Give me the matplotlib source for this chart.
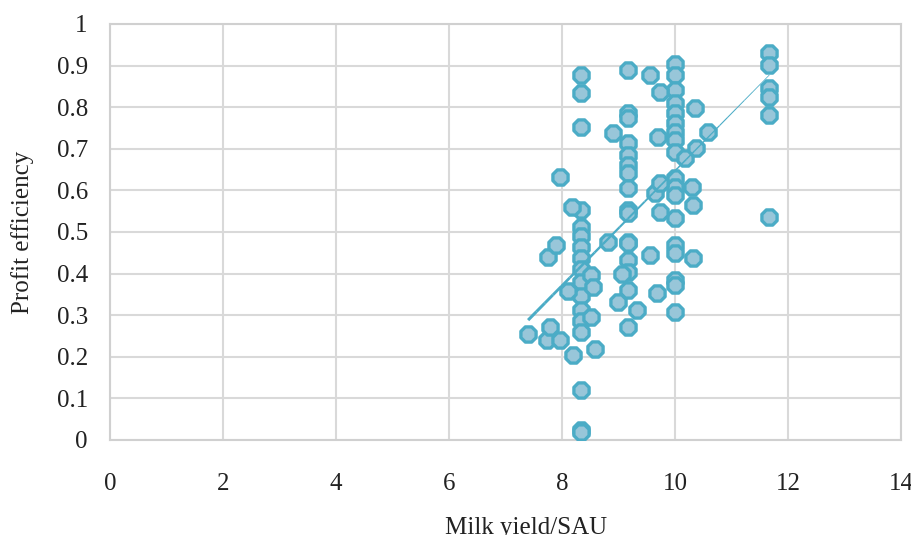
import numpy as np
import matplotlib
matplotlib.use('Agg')
import matplotlib.pyplot as plt
from matplotlib.collections import LineCollection

# milk yield columns (farms sharing the same yield value)
col_833 = [0.877, 0.833, 0.753, 0.553, 0.513, 0.49, 0.465, 0.437, 0.41, 0.38,
           0.345, 0.3125, 0.285, 0.26, 0.12, 0.025, 0.02]
col_917 = [0.889, 0.785, 0.775, 0.713, 0.685, 0.661, 0.641, 0.605, 0.553, 0.545,
           0.477, 0.473, 0.433, 0.405, 0.36, 0.272]
col_1000 = [0.905, 0.877, 0.841, 0.809, 0.785, 0.761, 0.741, 0.721, 0.693, 0.629,
            0.609, 0.589, 0.533, 0.469, 0.449, 0.385, 0.373, 0.308]
col_1167 = [0.93, 0.901, 0.845, 0.825, 0.781, 0.536]

# remaining farms
other_x = [7.40, 7.73, 7.76, 7.79, 7.90, 7.96, 7.97, 8.11, 8.17, 8.20, 8.52, 8.55,
           8.52, 8.58, 8.82, 8.91, 9.00, 9.06, 9.32, 9.56, 9.56, 9.65, 9.68, 9.73,
           9.70, 9.73, 9.73, 10.18, 10.30, 10.32, 10.32, 10.35, 10.38, 10.59]
other_y = [0.256, 0.24, 0.441, 0.272, 0.469, 0.24, 0.632, 0.357, 0.561, 0.204, 0.397, 0.368,
           0.296, 0.218, 0.477, 0.737, 0.332, 0.40, 0.3125, 0.445, 0.877, 0.593, 0.353, 0.837,
           0.729, 0.617, 0.549, 0.677, 0.609, 0.565, 0.437, 0.797, 0.701, 0.741]

# trend line as shown on the chart
trend_slope = 0.138
trend_intercept = -0.733

x = np.array([8.33] * len(col_833) + [9.17] * len(col_917) + [10.0] * len(col_1000)
             + [11.67] * len(col_1167) + other_x)
y = np.array(col_833 + col_917 + col_1000 + col_1167 + other_y)

plt.rcParams['font.family'] = ['Liberation Serif', 'DejaVu Serif']
txt = '#222222'
teal = '#4BACC6'

fig = plt.figure(figsize=(9.12, 5.35), dpi=100)
ax = fig.add_axes([110 / 912, 95 / 535, 791 / 912, 416 / 535])

ax.scatter(x, y, s=140, marker='8', facecolor='#98c6d9', edgecolor=teal,
           linewidths=2.4, zorder=3)

tx = np.linspace(x.min(), x.max(), 30)
ty = trend_slope * tx + trend_intercept
segs = [[(tx[i], ty[i]), (tx[i + 1], ty[i + 1])] for i in range(len(tx) - 1)]
lc = LineCollection(segs, colors=teal, linewidths=np.linspace(2.2, 0.5, len(segs)),
                    zorder=4)
ax.add_collection(lc)

ax.set_xlim(0, 14)
ax.set_ylim(0, 1)
ax.set_xticks(np.arange(0, 15, 2))
ax.set_yticks(np.arange(0, 1.01, 0.1))
ax.set_yticklabels(['0', '0.1', '0.2', '0.3', '0.4', '0.5', '0.6', '0.7', '0.8', '0.9', '1'])
ax.grid(True, color='#d9d9d9', linewidth=1.5, zorder=0)
ax.set_axisbelow(True)
for s in ax.spines.values():
    s.set_color('#d0d0d0')
    s.set_linewidth(1.5)
ax.tick_params(axis='both', length=0, labelsize=18, colors=txt)
ax.tick_params(axis='x', pad=24)
ax.tick_params(axis='y', pad=16)

ax.set_xlabel('Milk yield/SAU', fontsize=18, color=txt, va='center')
ax.xaxis.set_label_coords(0.526, -0.212)
ax.set_ylabel('Profit efficiency', fontsize=18, color=txt, va='center')
ax.yaxis.set_label_coords(-0.111, 0.5)

fig.savefig('out.png', dpi=100)
